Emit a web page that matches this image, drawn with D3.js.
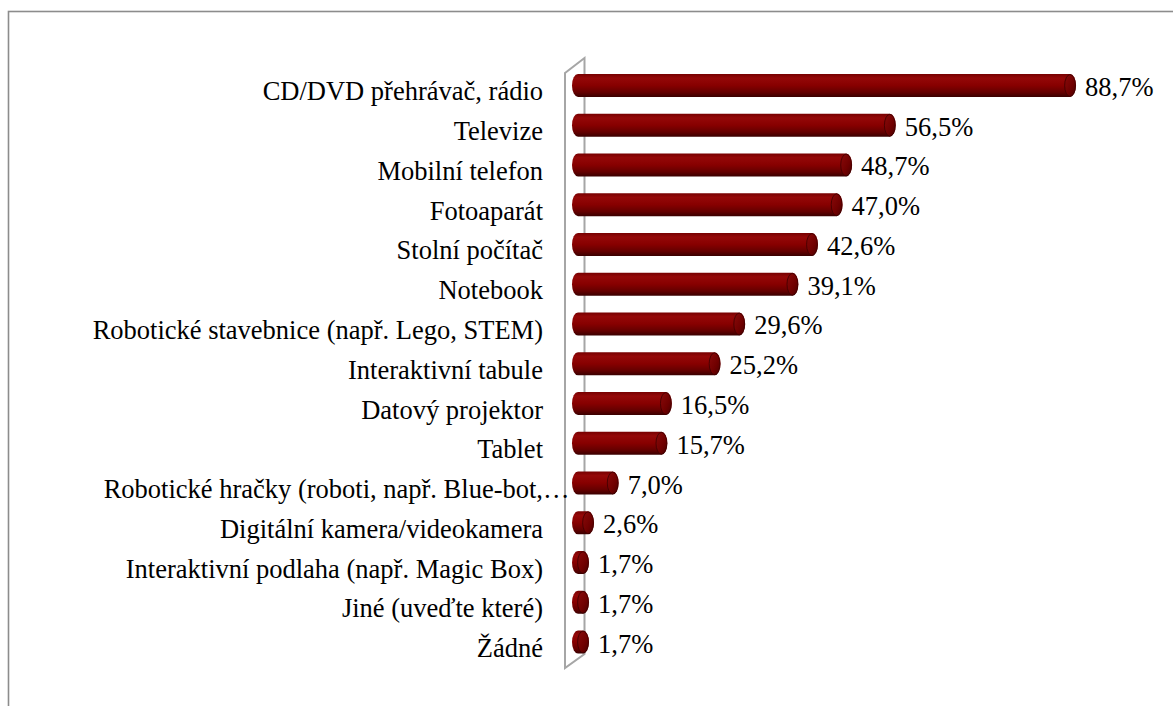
<!DOCTYPE html>
<html>
<head>
<meta charset="utf-8">
<script src="https://cdn.jsdelivr.net/npm/d3@7"></script>
<style>
  html, body { margin: 0; padding: 0; background: #fff; }
  svg { display: block; }
</style>
</head>
<body>
<svg id="chart" width="1173" height="706"></svg>
<script>
// Vybavení – podíl odpovědí (%)
const categories = [
  "CD/DVD přehrávač, rádio",
  "Televize",
  "Mobilní telefon",
  "Fotoaparát",
  "Stolní počítač",
  "Notebook",
  "Robotické stavebnice (např. Lego, STEM)",
  "Interaktivní tabule",
  "Datový projektor",
  "Tablet",
  "Robotické hračky (roboti, např. Blue-bot,…",
  "Digitální kamera/videokamera",
  "Interaktivní podlaha (např. Magic Box)",
  "Jiné (uveďte které)",
  "Žádné"
];
const values = [88.7, 56.5, 48.7, 47.0, 42.6, 39.1, 29.6, 25.2, 16.5, 15.7, 7.0, 2.6, 1.7, 1.7, 1.7];
const valueLabels = values.map(v => v.toFixed(1).replace(".", ",") + "%");

const svg = d3.select("#chart");
const font = "'Liberation Serif', 'Times New Roman', serif";
const fontSize = 26.5;

// outer chart frame (continues past the right and bottom edges)
svg.append("rect")
  .attr("x", 8.5).attr("y", 11.5)
  .attr("width", 1200).attr("height", 720)
  .attr("fill", "none").attr("stroke", "#8c8c8c").attr("stroke-width", 1.6);

const x = d3.scaleLinear().domain([0, 100]).range([579.5, 1139.3]);
const y = d3.scaleBand().domain(categories).range([65.6, 661.9]).padding(0);

// gradients for the cylinder body and end cap
const defs = svg.append("defs");
const g1 = defs.append("linearGradient").attr("id", "cyl").attr("x1", 0).attr("y1", 0).attr("x2", 0).attr("y2", 1);
[[0, "#760000"], [0.18, "#940808"], [0.5, "#870000"], [0.8, "#640000"], [1, "#3a0000"]]
  .forEach(([o, c]) => g1.append("stop").attr("offset", o).attr("stop-color", c));
const g2 = defs.append("linearGradient").attr("id", "cap").attr("x1", 0).attr("y1", 0).attr("x2", 1).attr("y2", 1);
[[0, "#8a0a0a"], [0.6, "#700000"], [1, "#4a0000"]]
  .forEach(([o, c]) => g2.append("stop").attr("offset", o).attr("stop-color", c));

// 3D back wall outline
const wall = d3.path();
wall.moveTo(565, 73); wall.lineTo(584.5, 58); wall.lineTo(584.5, 654);
wall.lineTo(565, 668); wall.closePath();
svg.append("path").attr("d", wall.toString())
  .attr("fill", "none").attr("stroke", "#a6a6a6").attr("stroke-width", 2);

// horizontal cylinders with an elliptical end cap
const rx = 6, barH = 23, labelRight = 543;
const rows = svg.append("g").selectAll("g").data(categories).join("g");

rows.each(function (c, i) {
  const g = d3.select(this);
  const cy = y(c) + y.bandwidth() / 2;
  const top = cy - barH / 2, bot = cy + barH / 2, ry = barH / 2;
  const cx0 = x(0) - 1.5;
  const cx1 = Math.max(cx0 + 0.5, x(values[i]) - rx);

  g.append("path")
    .attr("d", `M${cx0},${top} L${cx1},${top} A${rx},${ry} 0 0 1 ${cx1},${bot} L${cx0},${bot} A${rx},${ry} 0 0 1 ${cx0},${top} Z`)
    .attr("fill", "url(#cyl)");
  g.append("ellipse")
    .attr("cx", cx1).attr("cy", cy).attr("rx", rx - 0.6).attr("ry", ry - 0.6)
    .attr("fill", "url(#cap)").attr("stroke", "#3c0000").attr("stroke-width", 0.8);

  // category label; a trailing ellipsis hangs past the label edge
  const cut = c.endsWith("…");
  const main = cut ? c.slice(0, -1) : c;
  g.append("text")
    .attr("x", labelRight).attr("y", cy + 15)
    .attr("text-anchor", "end")
    .attr("font-family", font).attr("font-size", fontSize).attr("fill", "#000")
    .text(main);
  if (cut) {
    g.append("text")
      .attr("x", labelRight).attr("y", cy + 15)
      .attr("font-family", font).attr("font-size", fontSize).attr("fill", "#000")
      .text("…");
  }

  g.append("text")
    .attr("x", x(values[i]) + 9).attr("y", cy + 10.5)
    .attr("font-family", font).attr("font-size", fontSize).attr("fill", "#000")
    .text(valueLabels[i]);
});
</script>
</body>
</html>
